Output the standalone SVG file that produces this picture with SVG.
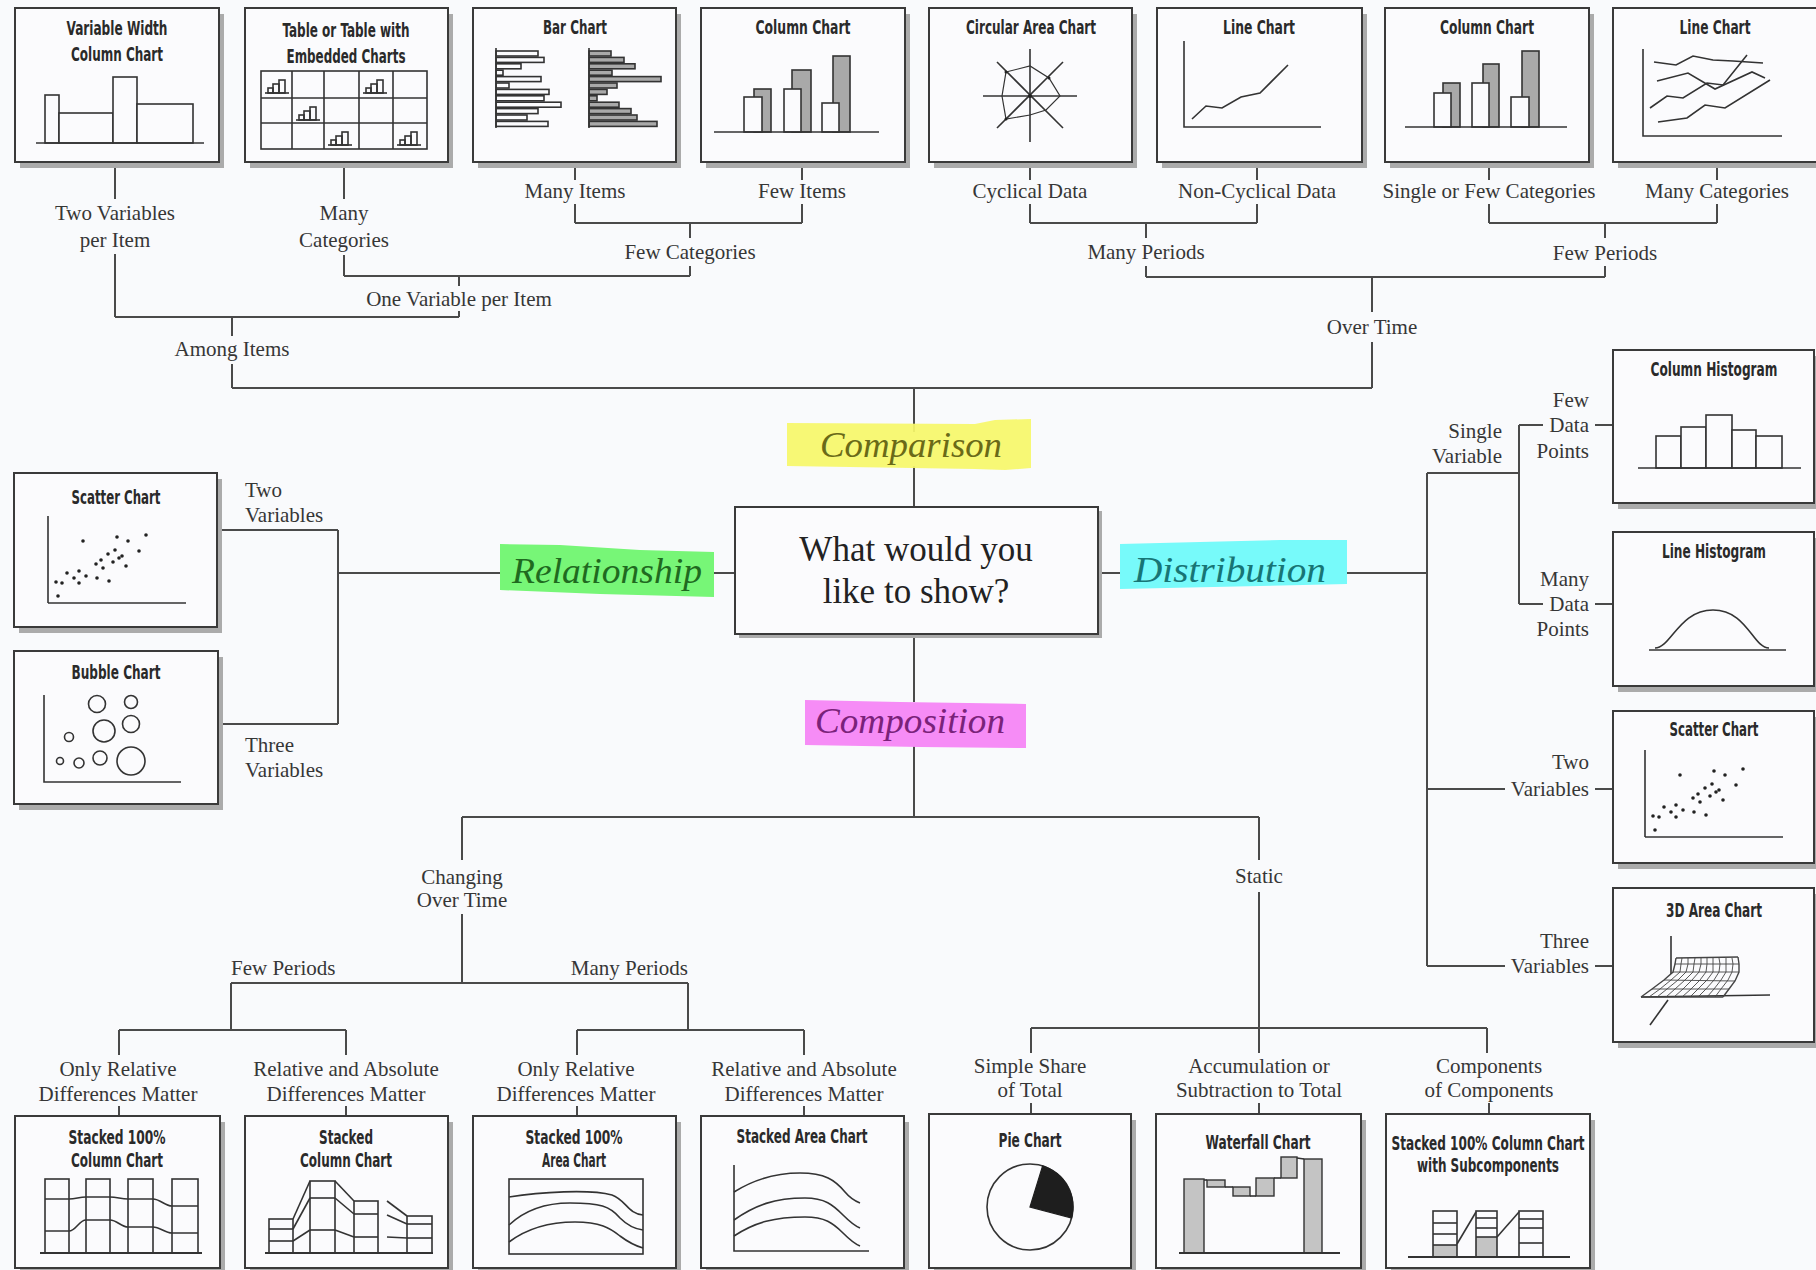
<svg xmlns="http://www.w3.org/2000/svg" xmlns:xlink="http://www.w3.org/1999/xlink" width="1816" height="1270" viewBox="0 0 1816 1270">
<style>
.bg{fill:#f9fafc}
.shadow{fill:#ababab}
.box{fill:#fbfbfd;stroke:#3a3a3a;stroke-width:2}
.t{font-family:"Liberation Sans Narrow","DejaVu Sans Condensed","Liberation Sans",sans-serif;font-size:19px;font-weight:bold;fill:#2a2a2a;text-anchor:middle}
.lbl{font-family:"Liberation Serif","DejaVu Serif",serif;font-size:21px;fill:#363636;text-anchor:middle}
.ls{text-anchor:start}
.le{text-anchor:end}
.q{font-family:"Liberation Serif","DejaVu Serif",serif;font-size:35px;fill:#222;text-anchor:middle}
.big{font-family:"Liberation Serif","DejaVu Serif",serif;font-style:italic;font-size:36px;text-anchor:middle}
.conn line,.conn path{stroke:#4a4a4a;stroke-width:2;fill:none}
.ink{stroke:#333;stroke-width:1.6;fill:none}
.inkw{stroke:#333;stroke-width:1.6;fill:#fbfbfd}
.inkg{stroke:#333;stroke-width:1.6;fill:#a9a9a9}
.inkl{stroke:#333;stroke-width:1.4;fill:#c4c4c4}
.thin{stroke:#444;stroke-width:0.9;fill:none}
.dot{fill:#222}
</style>
<defs>
<g id="mini" class="ink">
<line x1="4" y1="22" x2="28" y2="22"/>
<rect x="7" y="17" width="5" height="5"/>
<rect x="12" y="13" width="6" height="9"/>
<rect x="18" y="9" width="6" height="13"/>
</g>
<g id="scatter">
<line class="ink" x1="0" y1="-87" x2="0" y2="0"/>
<line class="ink" x1="0" y1="0" x2="138" y2="0"/>
<g class="dot">
<circle cx="35" cy="-62" r="1.8"/><circle cx="69" cy="-66" r="1.8"/><circle cx="80" cy="-62" r="1.8"/><circle cx="98" cy="-68" r="1.8"/>
<circle cx="91" cy="-52" r="1.8"/><circle cx="60" cy="-49" r="1.8"/><circle cx="67" cy="-53" r="1.8"/><circle cx="53" cy="-43" r="1.8"/>
<circle cx="48" cy="-39" r="1.8"/><circle cx="65" cy="-41" r="1.8"/><circle cx="78" cy="-37" r="1.8"/><circle cx="55" cy="-35" r="1.8"/>
<circle cx="38" cy="-27" r="1.8"/><circle cx="31" cy="-32" r="1.8"/><circle cx="19" cy="-30" r="1.8"/><circle cx="26" cy="-25" r="1.8"/>
<circle cx="49" cy="-25" r="1.8"/><circle cx="61" cy="-22" r="1.8"/><circle cx="31" cy="-20" r="1.8"/><circle cx="14" cy="-20" r="1.8"/>
<circle cx="8" cy="-21" r="1.8"/><circle cx="10" cy="-7" r="1.8"/><circle cx="71" cy="-45" r="1.8"/><circle cx="74" cy="-47" r="1.8"/>
</g>
</g>
</defs>
<rect class="bg" x="0" y="0" width="1816" height="1270"/>

<g id="connectors" class="conn">
<line x1="115" y1="162" x2="115" y2="199"/><line x1="115" y1="254" x2="115" y2="317"/>
<line x1="344" y1="162" x2="344" y2="199"/><line x1="344" y1="255" x2="344" y2="276"/>
<line x1="575" y1="162" x2="575" y2="180"/><line x1="575" y1="204" x2="575" y2="223"/>
<line x1="802" y1="162" x2="802" y2="180"/><line x1="802" y1="204" x2="802" y2="223"/>
<line x1="575" y1="223" x2="802" y2="223"/>
<line x1="690" y1="223" x2="690" y2="238"/><line x1="690" y1="266" x2="690" y2="276"/>
<line x1="344" y1="276" x2="690" y2="276"/>
<line x1="459" y1="276" x2="459" y2="286"/><line x1="459" y1="311" x2="459" y2="317"/>
<line x1="115" y1="317" x2="459" y2="317"/>
<line x1="232" y1="317" x2="232" y2="336"/><line x1="232" y1="364" x2="232" y2="388"/>
<line x1="232" y1="388" x2="1372" y2="388"/>
<line x1="1030" y1="162" x2="1030" y2="180"/><line x1="1030" y1="204" x2="1030" y2="223"/>
<line x1="1257" y1="162" x2="1257" y2="180"/><line x1="1257" y1="204" x2="1257" y2="223"/>
<line x1="1030" y1="223" x2="1257" y2="223"/>
<line x1="1146" y1="223" x2="1146" y2="238"/><line x1="1146" y1="266" x2="1146" y2="277"/>
<line x1="1489" y1="162" x2="1489" y2="180"/><line x1="1489" y1="204" x2="1489" y2="223"/>
<line x1="1717" y1="162" x2="1717" y2="180"/><line x1="1717" y1="204" x2="1717" y2="223"/>
<line x1="1489" y1="223" x2="1717" y2="223"/>
<line x1="1605" y1="223" x2="1605" y2="238"/><line x1="1605" y1="266" x2="1605" y2="277"/>
<line x1="1146" y1="277" x2="1605" y2="277"/>
<line x1="1372" y1="277" x2="1372" y2="312"/><line x1="1372" y1="342" x2="1372" y2="388"/>
<line x1="914" y1="388" x2="914" y2="432"/><line x1="914" y1="466" x2="914" y2="507"/>
<line x1="217" y1="530" x2="338" y2="530"/>
<line x1="218" y1="724" x2="338" y2="724"/>
<line x1="338" y1="530" x2="338" y2="724"/>
<line x1="338" y1="573" x2="502" y2="573"/>
<line x1="712" y1="573" x2="735" y2="573"/>
<line x1="1098" y1="573" x2="1122" y2="573"/>
<line x1="1345" y1="573" x2="1427" y2="573"/>
<line x1="1427" y1="473" x2="1427" y2="966"/>
<line x1="1427" y1="473" x2="1519" y2="473"/>
<line x1="1519" y1="425" x2="1519" y2="604"/>
<line x1="1519" y1="425" x2="1543" y2="425"/><line x1="1595" y1="425" x2="1613" y2="425"/>
<line x1="1519" y1="604" x2="1543" y2="604"/><line x1="1595" y1="604" x2="1613" y2="604"/>
<line x1="1427" y1="789" x2="1505" y2="789"/><line x1="1595" y1="789" x2="1613" y2="789"/>
<line x1="1427" y1="966" x2="1505" y2="966"/><line x1="1595" y1="966" x2="1613" y2="966"/>
<line x1="914" y1="634" x2="914" y2="702"/><line x1="914" y1="746" x2="914" y2="817"/>
<line x1="462" y1="817" x2="1259" y2="817"/>
<line x1="462" y1="817" x2="462" y2="860"/><line x1="462" y1="914" x2="462" y2="983"/>
<line x1="231" y1="983" x2="688" y2="983"/>
<line x1="231" y1="983" x2="231" y2="1030"/><line x1="688" y1="983" x2="688" y2="1030"/>
<line x1="119" y1="1030" x2="346" y2="1030"/><line x1="577" y1="1030" x2="804" y2="1030"/>
<line x1="119" y1="1030" x2="119" y2="1055"/><line x1="346" y1="1030" x2="346" y2="1055"/>
<line x1="577" y1="1030" x2="577" y2="1055"/><line x1="804" y1="1030" x2="804" y2="1055"/>
<line x1="119" y1="1106" x2="119" y2="1116"/><line x1="346" y1="1106" x2="346" y2="1116"/>
<line x1="577" y1="1106" x2="577" y2="1116"/><line x1="804" y1="1106" x2="804" y2="1116"/>
<line x1="1259" y1="817" x2="1259" y2="860"/><line x1="1259" y1="892" x2="1259" y2="1053"/>
<line x1="1031" y1="1028" x2="1487" y2="1028"/>
<line x1="1031" y1="1028" x2="1031" y2="1053"/><line x1="1487" y1="1028" x2="1487" y2="1053"/>
<line x1="1031" y1="1103" x2="1031" y2="1114"/><line x1="1259" y1="1103" x2="1259" y2="1114"/><line x1="1489" y1="1103" x2="1489" y2="1114"/>
</g>

<g id="connector-labels">
<text class="lbl" x="115" y="220">Two Variables</text><text class="lbl" x="115" y="247">per Item</text>
<text class="lbl" x="344" y="220">Many</text><text class="lbl" x="344" y="247">Categories</text>
<text class="lbl" x="575" y="198">Many Items</text>
<text class="lbl" x="802" y="198">Few Items</text>
<text class="lbl" x="1030" y="198">Cyclical Data</text>
<text class="lbl" x="1257" y="198">Non-Cyclical Data</text>
<text class="lbl" x="1489" y="198">Single or Few Categories</text>
<text class="lbl" x="1717" y="198">Many Categories</text>
<text class="lbl" x="690" y="259">Few Categories</text>
<text class="lbl" x="1146" y="259">Many Periods</text>
<text class="lbl" x="1605" y="260">Few Periods</text>
<text class="lbl" x="459" y="306">One Variable per Item</text>
<text class="lbl" x="232" y="356">Among Items</text>
<text class="lbl" x="1372" y="334">Over Time</text>
<text class="lbl ls" x="245" y="497">Two</text><text class="lbl ls" x="245" y="522">Variables</text>
<text class="lbl ls" x="245" y="752">Three</text><text class="lbl ls" x="245" y="777">Variables</text>
<text class="lbl le" x="1502" y="438">Single</text><text class="lbl le" x="1502" y="463">Variable</text>
<text class="lbl le" x="1589" y="407">Few</text><text class="lbl le" x="1589" y="432">Data</text><text class="lbl le" x="1589" y="458">Points</text>
<text class="lbl le" x="1589" y="586">Many</text><text class="lbl le" x="1589" y="611">Data</text><text class="lbl le" x="1589" y="636">Points</text>
<text class="lbl le" x="1589" y="769">Two</text><text class="lbl le" x="1589" y="796">Variables</text>
<text class="lbl le" x="1589" y="948">Three</text><text class="lbl le" x="1589" y="973">Variables</text>
<text class="lbl" x="462" y="884">Changing</text><text class="lbl" x="462" y="907">Over Time</text>
<text class="lbl" x="1259" y="883">Static</text>
<text class="lbl ls" x="231" y="975">Few Periods</text>
<text class="lbl le" x="688" y="975">Many Periods</text>
<text class="lbl" x="118" y="1076">Only Relative</text><text class="lbl" x="118" y="1101">Differences Matter</text>
<text class="lbl" x="346" y="1076">Relative and Absolute</text><text class="lbl" x="346" y="1101">Differences Matter</text>
<text class="lbl" x="576" y="1076">Only Relative</text><text class="lbl" x="576" y="1101">Differences Matter</text>
<text class="lbl" x="804" y="1076">Relative and Absolute</text><text class="lbl" x="804" y="1101">Differences Matter</text>
<text class="lbl" x="1030" y="1073">Simple Share</text><text class="lbl" x="1030" y="1097">of Total</text>
<text class="lbl" x="1259" y="1073">Accumulation or</text><text class="lbl" x="1259" y="1097">Subtraction to Total</text>
<text class="lbl" x="1489" y="1073">Components</text><text class="lbl" x="1489" y="1097">of Components</text>
</g>

<g id="center">
<rect class="shadow" x="739" y="511" width="363" height="127"/>
<rect class="box" x="735" y="507" width="363" height="127"/>
<text class="q" x="916" y="561">What would you</text>
<text class="q" x="916" y="603">like to show?</text>
</g>

<g id="comparison">
<polygon points="787,423 975,424 995,420 1031,419 1031,468 1005,470 975,469 787,466" fill="#f6f76a" fill-opacity="0.93"/>
<text class="big" x="911" y="457" fill="#6a6a18" textLength="182" lengthAdjust="spacingAndGlyphs">Comparison</text>
</g>
<g id="relationship">
<polygon points="500,544 560,545 640,550 714,552 714,597 600,594 500,590" fill="#77f677"/>
<text class="big" x="607" y="583" fill="#1f6a1f" textLength="190" lengthAdjust="spacingAndGlyphs">Relationship</text>
</g>
<g id="distribution">
<polygon points="1120,544 1200,542 1280,540 1347,540 1347,584 1260,586 1120,589" fill="#77fafa"/>
<text class="big" x="1230" y="582" fill="#177575" textLength="192" lengthAdjust="spacingAndGlyphs">Distribution</text>
</g>
<g id="composition">
<polygon points="805,700 900,702 1026,704 1026,748 920,747 805,745" fill="#f68cf6"/>
<text class="big" x="910" y="733" fill="#7a227a" textLength="190" lengthAdjust="spacingAndGlyphs">Composition</text>
</g>

<g id="variable-width-column-chart">
<rect class="shadow" x="20" y="14" width="204" height="154"/>
<rect class="box" x="15" y="8" width="204" height="154"/>
<text class="t" x="117" y="35" textLength="101" lengthAdjust="spacingAndGlyphs">Variable Width</text>
<text class="t" x="117" y="61" textLength="92" lengthAdjust="spacingAndGlyphs">Column Chart</text>
<rect class="inkw" x="45" y="95" width="14" height="48"/>
<rect class="inkw" x="59" y="113" width="54" height="30"/>
<rect class="inkw" x="113" y="77" width="24" height="66"/>
<rect class="inkw" x="137" y="104" width="56" height="39"/>
<line class="ink" x1="36" y1="143" x2="204" y2="143" stroke-width="2"/>
</g>

<g id="table-embedded-charts">
<rect class="shadow" x="250" y="14" width="203" height="154"/>
<rect class="box" x="245" y="8" width="203" height="154"/>
<text class="t" x="346" y="37" textLength="127" lengthAdjust="spacingAndGlyphs">Table or Table with</text>
<text class="t" x="346" y="63" textLength="119" lengthAdjust="spacingAndGlyphs">Embedded Charts</text>
<g class="ink" stroke-width="2">
<rect x="261" y="71" width="166" height="78"/>
<line x1="292" y1="71" x2="292" y2="149"/><line x1="324" y1="71" x2="324" y2="149"/>
<line x1="359" y1="71" x2="359" y2="149"/><line x1="393" y1="71" x2="393" y2="149"/>
<line x1="261" y1="98" x2="427" y2="98"/><line x1="261" y1="123" x2="427" y2="123"/>
</g>
<use xlink:href="#mini" href="#mini" x="261" y="71"/>
<use xlink:href="#mini" href="#mini" x="359" y="71"/>
<use xlink:href="#mini" href="#mini" x="292" y="98"/>
<use xlink:href="#mini" href="#mini" x="324" y="123"/>
<use xlink:href="#mini" href="#mini" x="393" y="123"/>
</g>

<g id="bar-chart">
<rect class="shadow" x="478" y="14" width="203" height="154"/>
<rect class="box" x="473" y="8" width="203" height="154"/>
<text class="t" x="575" y="34" textLength="64" lengthAdjust="spacingAndGlyphs">Bar Chart</text>
<g class="inkw" stroke-width="1.3">
<rect x="496" y="51" width="42" height="5"/><rect x="496" y="57.4" width="48" height="5"/><rect x="496" y="63.8" width="25" height="5"/>
<rect x="496" y="70.2" width="7" height="5"/><rect x="496" y="76.6" width="45" height="5"/><rect x="496" y="83" width="13" height="5"/>
<rect x="496" y="89.4" width="53" height="5"/><rect x="496" y="95.8" width="48" height="5"/><rect x="496" y="102.2" width="65" height="5"/>
<rect x="496" y="108.6" width="42" height="5"/><rect x="496" y="115" width="31" height="5"/><rect x="496" y="121.4" width="52" height="5"/>
</g>
<g class="inkg" stroke-width="1.3">
<rect x="589" y="51" width="22" height="5"/><rect x="589" y="57.4" width="35" height="5"/><rect x="589" y="63.8" width="46" height="5"/>
<rect x="589" y="70.2" width="23" height="5"/><rect x="589" y="76.6" width="72" height="5"/><rect x="589" y="83" width="28" height="5"/>
<rect x="589" y="89.4" width="18" height="5"/><rect x="589" y="95.8" width="8" height="5"/><rect x="589" y="102.2" width="30" height="5"/>
<rect x="589" y="108.6" width="42" height="5"/><rect x="589" y="115" width="48" height="5"/><rect x="589" y="121.4" width="68" height="5"/>
</g>
<line class="ink" x1="496" y1="48" x2="496" y2="128" stroke-width="2.2"/>
<line class="ink" x1="589" y1="48" x2="589" y2="128" stroke-width="2.2"/>
</g>

<g id="column-chart-few-items">
<rect class="shadow" x="706" y="14" width="204" height="154"/>
<rect class="box" x="701" y="8" width="204" height="154"/>
<text class="t" x="803" y="34" textLength="95" lengthAdjust="spacingAndGlyphs">Column Chart</text>
<rect class="inkg" x="754" y="89" width="17" height="43"/><rect class="inkw" x="744" y="97" width="18" height="35"/>
<rect class="inkg" x="792" y="70" width="19" height="62"/><rect class="inkw" x="784" y="89" width="17" height="43"/>
<rect class="inkg" x="833" y="56" width="17" height="76"/><rect class="inkw" x="822" y="103" width="17" height="29"/>
<line class="ink" x1="714" y1="132" x2="879" y2="132"/>
</g>

<g id="circular-area-chart">
<rect class="shadow" x="934" y="14" width="203" height="154"/>
<rect class="box" x="929" y="8" width="203" height="154"/>
<text class="t" x="1031" y="34" textLength="130" lengthAdjust="spacingAndGlyphs">Circular Area Chart</text>
<g class="ink">
<line x1="1030" y1="49" x2="1030" y2="142"/><line x1="983" y1="96" x2="1077" y2="96"/>
<line x1="997" y1="62" x2="1063" y2="128"/><line x1="1063" y1="62" x2="997" y2="128"/>
<polygon points="1006,72 1030,66 1049,78 1060,96 1046,110 1030,115 1006,119 1002,96" stroke-width="1.2"/>
</g>
<circle class="dot" cx="1030" cy="96" r="2"/><circle class="dot" cx="1006" cy="72" r="1.5"/><circle class="dot" cx="1049" cy="78" r="1.5"/><circle class="dot" cx="1006" cy="119" r="1.5"/>
</g>

<g id="line-chart-non-cyclical">
<rect class="shadow" x="1162" y="14" width="205" height="154"/>
<rect class="box" x="1157" y="8" width="205" height="154"/>
<text class="t" x="1259" y="34" textLength="72" lengthAdjust="spacingAndGlyphs">Line Chart</text>
<polyline class="ink" points="1184,41 1184,127 1321,127"/>
<polyline class="ink" points="1192,119 1206,106 1222,108 1241,97 1260,93 1288,65"/>
</g>

<g id="column-chart-few-categories">
<rect class="shadow" x="1390" y="14" width="204" height="154"/>
<rect class="box" x="1385" y="8" width="204" height="154"/>
<text class="t" x="1487" y="34" textLength="94" lengthAdjust="spacingAndGlyphs">Column Chart</text>
<rect class="inkg" x="1443" y="83" width="17" height="44"/><rect class="inkw" x="1434" y="93" width="17" height="34"/>
<rect class="inkg" x="1483" y="64" width="16" height="63"/><rect class="inkw" x="1472" y="83" width="17" height="44"/>
<rect class="inkg" x="1522" y="51" width="17" height="76"/><rect class="inkw" x="1511" y="97" width="18" height="30"/>
<line class="ink" x1="1405" y1="127" x2="1567" y2="127"/>
</g>

<g id="line-chart-many-categories">
<rect class="shadow" x="1618" y="14" width="204" height="154"/>
<rect class="box" x="1613" y="8" width="204" height="154"/>
<text class="t" x="1715" y="34" textLength="71" lengthAdjust="spacingAndGlyphs">Line Chart</text>
<g transform="translate(1613,8)" class="ink">
<polyline points="30,41 30,128 169,128"/>
<polyline points="41,54 63,57 80,48 100,52 120,53 150,55"/>
<polyline points="44,73 75,65 102,81 139,64 152,70"/>
<polyline points="37,100 54,88 70,90 94,75 110,77 134,47"/>
<polyline points="45,114 74,110 92,97 112,100 157,72"/>
</g>
</g>

<g id="scatter-chart-relationship">
<rect class="shadow" x="19" y="479" width="203" height="154"/>
<rect class="box" x="14" y="473" width="203" height="154"/>
<text class="t" x="116" y="504" textLength="89" lengthAdjust="spacingAndGlyphs">Scatter Chart</text>
<use xlink:href="#scatter" href="#scatter" transform="translate(48,603)"/>
</g>

<g id="bubble-chart">
<rect class="shadow" x="19" y="657" width="204" height="153"/>
<rect class="box" x="14" y="651" width="204" height="153"/>
<text class="t" x="116" y="679" textLength="89" lengthAdjust="spacingAndGlyphs">Bubble Chart</text>
<g transform="translate(14,651)" class="ink">
<polyline points="30,44 30,131 167,131"/>
<circle cx="83" cy="53" r="8.5"/><circle cx="117" cy="51" r="6.5"/><circle cx="117" cy="73" r="8.5"/>
<circle cx="90" cy="80" r="11"/><circle cx="55" cy="86" r="4.5"/><circle cx="46" cy="110" r="3.5"/>
<circle cx="65" cy="112" r="5"/><circle cx="86" cy="107" r="7"/><circle cx="117" cy="110" r="14"/>
</g>
</g>

<g id="column-histogram">
<rect class="shadow" x="1618" y="356" width="201" height="153"/>
<rect class="box" x="1613" y="350" width="201" height="153"/>
<text class="t" x="1714" y="376" textLength="127" lengthAdjust="spacingAndGlyphs">Column Histogram</text>
<g transform="translate(1613,350)">
<rect class="inkw" x="43" y="86" width="25" height="32"/><rect class="inkw" x="68" y="77" width="25" height="41"/>
<rect class="inkw" x="93" y="65" width="26" height="53"/><rect class="inkw" x="119" y="80" width="24" height="38"/>
<rect class="inkw" x="143" y="86" width="26" height="32"/>
<line class="ink" x1="25" y1="118" x2="188" y2="118"/>
</g>
</g>

<g id="line-histogram">
<rect class="shadow" x="1618" y="538" width="201" height="154"/>
<rect class="box" x="1613" y="532" width="201" height="154"/>
<text class="t" x="1714" y="558" textLength="104" lengthAdjust="spacingAndGlyphs">Line Histogram</text>
<g transform="translate(1613,532)" class="ink">
<line x1="36" y1="118" x2="173" y2="118"/>
<path d="M42,116 C58,116 66,78 100,78 C134,78 140,116 156,116"/>
</g>
</g>

<g id="scatter-chart-distribution">
<rect class="shadow" x="1618" y="717" width="201" height="152"/>
<rect class="box" x="1613" y="711" width="201" height="152"/>
<text class="t" x="1714" y="736" textLength="89" lengthAdjust="spacingAndGlyphs">Scatter Chart</text>
<use xlink:href="#scatter" href="#scatter" transform="translate(1645,837)"/>
</g>

<g id="area-chart-3d">
<rect class="shadow" x="1618" y="894" width="201" height="154"/>
<rect class="box" x="1613" y="888" width="201" height="154"/>
<text class="t" x="1714" y="917" textLength="96" lengthAdjust="spacingAndGlyphs">3D Area Chart</text>
<g class="ink" stroke-width="1.5">
<line x1="1671" y1="936" x2="1671" y2="974"/>
<line x1="1641" y1="997" x2="1770" y2="995"/>
<line x1="1668" y1="1000" x2="1650" y2="1025"/>
</g>
<g class="thin">
<path d="M1676,958 L1675,964 L1673,972 L1664,980 L1652,989 L1641,997" stroke-width="1.4"/>
<path d="M1738,957 L1739,964 L1739,972 L1735,981 L1729,989 L1723,997" stroke-width="1.4"/>
<line x1="1676" y1="958" x2="1738" y2="957" stroke-width="1.4"/>
<line x1="1641" y1="997" x2="1723" y2="997" stroke-width="1.4"/>
<line x1="1675" y1="964" x2="1739" y2="964"/>
<line x1="1673" y1="972" x2="1739" y2="972"/>
<line x1="1664" y1="980" x2="1735" y2="981"/>
<line x1="1652" y1="989" x2="1729" y2="989"/>
<polyline points="1682,958 1681,964 1680,972 1671,980 1660,989 1649,997"/>
<polyline points="1688,958 1688,964 1686,972 1678,980 1667,989 1657,997"/>
<polyline points="1695,958 1694,964 1693,972 1685,980 1675,989 1666,997"/>
<polyline points="1701,958 1701,964 1699,972 1692,980 1683,989 1674,997"/>
<polyline points="1707,958 1707,964 1706,972 1700,980 1691,989 1682,997"/>
<polyline points="1713,958 1713,964 1713,972 1707,980 1698,989 1690,997"/>
<polyline points="1719,958 1720,964 1719,972 1714,980 1706,989 1698,997"/>
<polyline points="1726,958 1726,964 1726,972 1721,980 1714,989 1707,997"/>
<polyline points="1732,958 1733,964 1732,972 1728,980 1721,989 1715,997"/>
</g>
</g>

<g id="stacked-100-column-chart">
<rect class="shadow" x="20" y="1122" width="205" height="152"/>
<rect class="box" x="15" y="1116" width="205" height="152"/>
<text class="t" x="117" y="1144" textLength="97" lengthAdjust="spacingAndGlyphs">Stacked 100%</text>
<text class="t" x="117" y="1167" textLength="92" lengthAdjust="spacingAndGlyphs">Column Chart</text>
<g class="ink">
<rect x="45" y="1179" width="24" height="74"/><rect x="86" y="1179" width="24" height="74"/>
<rect x="128" y="1179" width="25" height="74"/><rect x="172" y="1179" width="26" height="74"/>
<path d="M45,1199 L69,1199 C76,1199 79,1197 86,1197 L110,1197 C117,1197 121,1199 128,1199 L153,1199 C160,1199 165,1206 172,1206 L198,1206"/>
<path d="M45,1231 L69,1231 C76,1231 79,1220 86,1220 L110,1220 C117,1220 121,1227 128,1227 L153,1227 C160,1227 165,1233 172,1233 L198,1233"/>
<line x1="40" y1="1253" x2="202" y2="1253" stroke-width="2"/>
</g>
</g>

<g id="stacked-column-chart">
<rect class="shadow" x="250" y="1122" width="203" height="152"/>
<rect class="box" x="245" y="1116" width="203" height="152"/>
<text class="t" x="346" y="1144" textLength="54" lengthAdjust="spacingAndGlyphs">Stacked</text>
<text class="t" x="346" y="1167" textLength="92" lengthAdjust="spacingAndGlyphs">Column Chart</text>
<g class="ink">
<rect x="269" y="1219" width="24" height="34"/><line x1="269" y1="1229" x2="293" y2="1229"/><line x1="269" y1="1241" x2="293" y2="1241"/>
<rect x="310" y="1181" width="25" height="72"/><line x1="310" y1="1198" x2="335" y2="1198"/><line x1="310" y1="1230" x2="335" y2="1230"/>
<rect x="354" y="1201" width="24" height="52"/><line x1="354" y1="1214" x2="378" y2="1214"/><line x1="354" y1="1237" x2="378" y2="1237"/>
<rect x="407" y="1216" width="25" height="37"/><line x1="407" y1="1224" x2="432" y2="1224"/><line x1="407" y1="1238" x2="432" y2="1238"/>
<line x1="293" y1="1219" x2="310" y2="1181"/><line x1="293" y1="1229" x2="310" y2="1198"/><line x1="293" y1="1241" x2="310" y2="1230"/>
<line x1="335" y1="1181" x2="354" y2="1201"/><line x1="335" y1="1198" x2="354" y2="1214"/><line x1="335" y1="1230" x2="354" y2="1237"/>
<line x1="387" y1="1201" x2="407" y2="1216"/><line x1="387" y1="1215" x2="407" y2="1224"/><line x1="387" y1="1237" x2="407" y2="1238"/>
<line x1="265" y1="1253" x2="433" y2="1253" stroke-width="2"/>
</g>
</g>

<g id="stacked-100-area-chart">
<rect class="shadow" x="478" y="1122" width="203" height="152"/>
<rect class="box" x="473" y="1116" width="203" height="152"/>
<text class="t" x="574" y="1144" textLength="97" lengthAdjust="spacingAndGlyphs">Stacked 100%</text>
<text class="t" x="574" y="1167" textLength="64" lengthAdjust="spacingAndGlyphs">Area Chart</text>
<g class="ink">
<rect x="509" y="1179" width="134" height="75"/>
<path d="M509,1197 C540,1192 590,1189 612,1195 C626,1200 628,1214 643,1215"/>
<path d="M509,1225 C525,1210 545,1203 570,1203 C600,1203 610,1206 620,1218 C628,1226 635,1229 643,1230"/>
<path d="M509,1242 C525,1230 545,1222 575,1222 C600,1222 610,1228 620,1236 C628,1242 636,1246 643,1248"/>
</g>
</g>

<g id="stacked-area-chart">
<rect class="shadow" x="706" y="1122" width="203" height="152"/>
<rect class="box" x="701" y="1116" width="203" height="152"/>
<text class="t" x="802" y="1143" textLength="131" lengthAdjust="spacingAndGlyphs">Stacked Area Chart</text>
<g class="ink">
<polyline points="734,1165 734,1251 869,1251"/>
<path d="M734,1192 C750,1182 770,1173 800,1173 C825,1173 835,1180 845,1192 C850,1198 855,1201 860,1203"/>
<path d="M734,1220 C755,1205 775,1198 805,1198 C825,1198 833,1205 843,1215 C850,1222 855,1226 860,1228"/>
<path d="M734,1236 C755,1222 775,1217 805,1217 C825,1217 833,1223 843,1233 C850,1240 855,1244 860,1246"/>
</g>
</g>

<g id="pie-chart">
<rect class="shadow" x="934" y="1120" width="202" height="154"/>
<rect class="box" x="929" y="1114" width="202" height="154"/>
<text class="t" x="1030" y="1147" textLength="63" lengthAdjust="spacingAndGlyphs">Pie Chart</text>
<circle class="inkw" cx="1030" cy="1207" r="43"/>
<path d="M1030,1207 L1042.6,1165.9 A43,43 0 0 1 1071.5,1218.1 Z" fill="#1e1e1e" stroke="#1e1e1e" stroke-width="1.2"/>
</g>

<g id="waterfall-chart">
<rect class="shadow" x="1161" y="1120" width="205" height="154"/>
<rect class="box" x="1156" y="1114" width="205" height="154"/>
<text class="t" x="1258" y="1149" textLength="105" lengthAdjust="spacingAndGlyphs">Waterfall Chart</text>
<g class="inkl">
<rect x="1184" y="1179" width="20" height="74"/><rect x="1207" y="1180" width="18" height="7"/>
<rect x="1233" y="1187" width="17" height="9"/><rect x="1256" y="1178" width="18" height="18"/>
<rect x="1281" y="1157" width="16" height="21"/><rect x="1304" y="1159" width="18" height="94"/>
</g>
<g class="ink">
<line x1="1204" y1="1180" x2="1207" y2="1180"/><line x1="1225" y1="1187" x2="1233" y2="1187"/>
<line x1="1250" y1="1196" x2="1256" y2="1196"/><line x1="1274" y1="1178" x2="1281" y2="1178"/>
<line x1="1297" y1="1158" x2="1304" y2="1159"/>
<line x1="1179" y1="1253" x2="1340" y2="1253" stroke-width="2"/>
</g>
</g>

<g id="stacked-100-column-subcomponents">
<rect class="shadow" x="1391" y="1120" width="204" height="154"/>
<rect class="box" x="1386" y="1114" width="204" height="154"/>
<text class="t" x="1488" y="1150" textLength="193" lengthAdjust="spacingAndGlyphs">Stacked 100% Column Chart</text>
<text class="t" x="1488" y="1172" textLength="142" lengthAdjust="spacingAndGlyphs">with Subcomponents</text>
<rect x="1433" y="1245" width="24" height="12" fill="#c4c4c4"/>
<rect x="1476" y="1237" width="21" height="20" fill="#c4c4c4"/>
<g class="ink">
<rect x="1433" y="1211" width="24" height="46"/><line x1="1433" y1="1223" x2="1457" y2="1223"/><line x1="1433" y1="1234" x2="1457" y2="1234"/><line x1="1433" y1="1245" x2="1457" y2="1245"/>
<rect x="1476" y="1211" width="21" height="46"/><line x1="1476" y1="1218" x2="1497" y2="1218"/><line x1="1476" y1="1228" x2="1497" y2="1228"/><line x1="1476" y1="1237" x2="1497" y2="1237"/>
<rect x="1519" y="1211" width="24" height="46"/><line x1="1519" y1="1219" x2="1543" y2="1219"/><line x1="1519" y1="1228" x2="1543" y2="1228"/><line x1="1519" y1="1243" x2="1543" y2="1243"/>
<line x1="1457" y1="1244" x2="1476" y2="1212"/><line x1="1497" y1="1237" x2="1519" y2="1212"/>
<line x1="1408" y1="1257" x2="1570" y2="1257" stroke-width="2"/>
</g>
</g>
</svg>
